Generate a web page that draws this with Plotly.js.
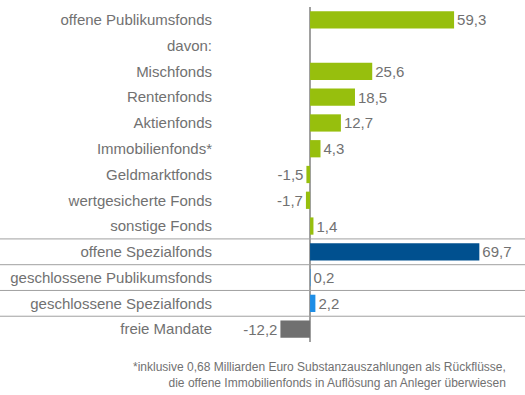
<!DOCTYPE html>
<html>
<head>
<meta charset="utf-8">
<script src="https://cdn.plot.ly/plotly-3.0.1.min.js"></script>
<style>html,body{margin:0;padding:0;background:#fff;}#chart{width:525px;height:395px;}</style>
</head>
<body>
<div id="chart"></div>
<script>
const categories = [
  "offene Publikumsfonds", "davon:", "Mischfonds", "Rentenfonds", "Aktienfonds",
  "Immobilienfonds*", "Geldmarktfonds", "wertgesicherte Fonds", "sonstige Fonds",
  "offene Spezialfonds", "geschlossene Publikumsfonds", "geschlossene Spezialfonds", "freie Mandate"
];
const values = [59.3, null, 25.6, 18.5, 12.7, 4.3, -1.5, -1.7, 1.4, 69.7, 0.2, 2.2, -12.2];
const barColors = ["#97bf0d", "#97bf0d", "#97bf0d", "#97bf0d", "#97bf0d", "#97bf0d", "#97bf0d", "#97bf0d", "#97bf0d",
  "#00508f", "#1e8ee6", "#1e8ee6", "#707070"];
const footnote = "*inklusive 0,68 Milliarden Euro Substanzauszahlungen als Rückflüsse,<br>die offene Immobilienfonds in Auflösung an Anleger überwiesen";
const separators = [8.5, 9.5, 10.5, 11.5];

const labels = values.map(v => v === null ? "" : v.toFixed(1).replace(".", ","));
const textColor = "#717171";
const FONT = "'Liberation Sans', Arial, sans-serif";

const trace = {
  type: "bar",
  orientation: "h",
  y: categories,
  x: values,
  marker: {color: barColors},
  text: labels,
  textposition: "outside",
  cliponaxis: false,
  textfont: {family: FONT, size: 15, color: textColor},
  hoverinfo: "none"
};

const shapes = separators.map(s => ({
  type: "line", xref: "paper", yref: "y",
  x0: -218 / 307, x1: 1, y0: s, y1: s,
  line: {color: "#a0a0a0", width: 1}
}));

const layout = {
  width: 525, height: 395,
  margin: {l: 218, r: 0, t: 7, b: 53},
  paper_bgcolor: "#fff", plot_bgcolor: "#fff",
  showlegend: false,
  bargap: 0.33,
  font: {family: FONT, size: 15, color: textColor},
  xaxis: {
    range: [-37.9, 88.5], showgrid: false, showticklabels: false, ticks: "",
    zeroline: true, zerolinecolor: "#a0a0a0", zerolinewidth: 1.5, showline: false, fixedrange: true
  },
  yaxis: {
    type: "category", autorange: "reversed", showgrid: false, ticks: "",
    ticklabelstandoff: 5, showline: false, zeroline: false,
    tickfont: {family: FONT, size: 15, color: textColor}
  },
  shapes: shapes,
  annotations: [{
    xref: "paper", yref: "paper", x: (508 - 218) / 307, y: -0.0985,
    xanchor: "right", yanchor: "middle", align: "right", showarrow: false,
    text: footnote,
    font: {family: FONT, size: 12, color: textColor}
  }]
};

Plotly.newPlot("chart", [trace], layout, {displayModeBar: false, staticPlot: true});
</script>
</body>
</html>
